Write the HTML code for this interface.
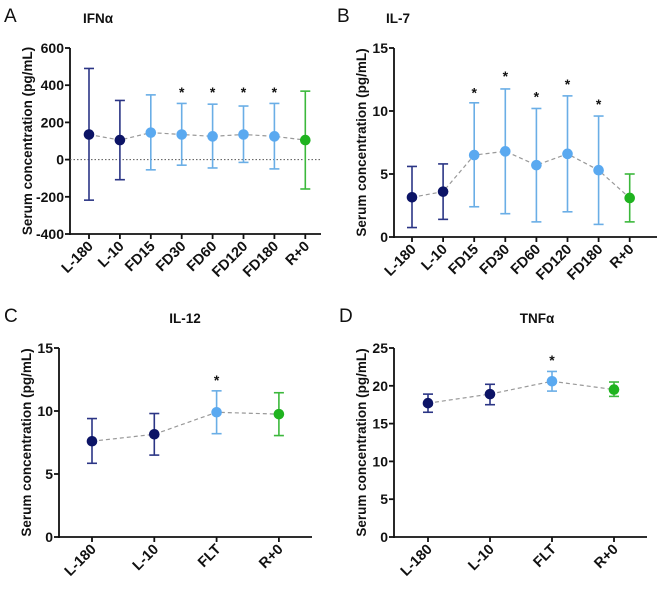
<!DOCTYPE html>
<html><head><meta charset="utf-8"><style>
body{margin:0;background:#fff;}
svg{display:block;font-family:"Liberation Sans",Arial,sans-serif;}
</style></head><body>
<svg id="fig" width="669" height="602" viewBox="0 0 669 602"></svg>
<script>
const catsAB = ["L-180","L-10","FD15","FD30","FD60","FD120","FD180","R+0"];
const catsCD = ["L-180","L-10","FLT","R+0"];
const colAB = ["navy","navy","light","light","light","light","light","green"];
const colCD = ["navy","navy","light","green"];
const ifnMean = [135,105,145,135,125,135,125,105];
const ifnUp = [490,318,348,302,298,288,302,368];
const ifnLo = [-218,-108,-55,-30,-45,-15,-50,-158];
const ifnStar = [null,null,null,380,380,380,380,null];
const il7Mean = [3.15,3.6,6.5,6.8,5.7,6.6,5.3,3.1];
const il7Up = [5.6,5.8,10.65,11.75,10.2,11.2,9.6,5.0];
const il7Lo = [0.75,1.4,2.4,1.85,1.2,2.0,1.0,1.2];
const il7Star = [null,null,11.7,13.0,11.4,12.4,10.8,null];
const il12Mean = [7.6,8.15,9.9,9.75];
const il12Up = [9.4,9.8,11.6,11.45];
const il12Lo = [5.85,6.5,8.2,8.05];
const il12Star = [null,null,12.7,null];
const tnfMean = [17.7,18.9,20.6,19.5];
const tnfUp = [18.9,20.2,21.9,20.5];
const tnfLo = [16.5,17.5,19.3,18.6];
const tnfStar = [null,null,23.8,null];
const ticksA = [-400,-200,0,200,400,600];
const ticksB = [0,5,10,15];
const ticksC = [0,5,10,15];
const ticksD = [0,5,10,15,20,25];

const NS="http://www.w3.org/2000/svg";
const svg=document.getElementById('fig');
const COL={navy:{dot:"#0c1466",bar:"#2b3585"},light:{dot:"#5aa9f0",bar:"#6aaee6"},green:{dot:"#1fb31f",bar:"#3cb83c"}};
function mk(tag,attrs,parent){const e=document.createElementNS(NS,tag);for(const k in attrs)e.setAttribute(k,attrs[k]);(parent||svg).appendChild(e);return e;}

function panel(p){
  const g=mk('g',{});
  
  
  const y=v=>p.y0+(v-p.vmin)/(p.vmax-p.vmin)*(p.y1-p.y0);
  const x=i=>p.xs0+i*p.dx;
  let t=mk('text',{x:p.lx,y:p.ly,'font-size':19,fill:'#111'},g);t.textContent=p.letter;
  
  t=mk('text',{x:p.tx,y:p.ty,'font-size':13.5,'font-weight':'bold','text-anchor':'middle',fill:'#111'},g);t.textContent=p.title;
  
  const yc=(p.y0+p.y1)/2;
  const yx=p.ax-p.tOff;
  t=mk('text',{x:yx,y:yc,'font-size':13.5,'font-weight':'bold','text-anchor':'middle',fill:'#111',transform:`rotate(-90 ${yx} ${yc})`},g);t.textContent="Serum concentration (pg/mL)";
  
  let l=mk('line',{x1:p.ax,x2:p.ax,y1:p.y1,y2:p.y0+1,stroke:'#111','stroke-width':1.8},g);
  
  p.ticks.forEach(v=>{
    mk('line',{x1:p.ax-5,x2:p.ax,y1:y(v),y2:y(v),stroke:'#111','stroke-width':1.8},g);
    const tt=mk('text',{x:p.ax-6,y:y(v)+5,'font-size':14,'font-weight':'bold','text-anchor':'end',fill:'#111'},g);tt.textContent=v;
    
  });
  l=mk('line',{x1:p.ax-1,x2:p.xend,y1:p.y0,y2:p.y0,stroke:'#111','stroke-width':1.8},g);
  
  if(p.zero){l=mk('line',{x1:p.ax,x2:p.xend,y1:y(0),y2:y(0),stroke:'#555','stroke-width':1,'stroke-dasharray':'1.5 2'},g);
    }
  p.cats.forEach((c,i)=>{
    mk('line',{x1:x(i),x2:x(i),y1:p.y0,y2:p.y0+5,stroke:'#111','stroke-width':1.8},g);
    const tx=x(i)+5,ty=p.y0+13;
    const tt=mk('text',{x:tx,y:ty,'font-size':14.5,'font-weight':'bold','text-anchor':'end',fill:'#111',transform:`rotate(-45 ${tx} ${ty})`},g);tt.textContent=c;
    
  });
  const pts=p.mean.map((m,i)=>x(i)+','+y(m)).join(' ');
  l=mk('polyline',{points:pts,fill:'none',stroke:'#999','stroke-width':1.2,'stroke-dasharray':'4 3'},g);
  
  p.mean.forEach((m,i)=>{
    const c=COL[p.col[i]];
    const eg=mk('g',{},g);
    
    mk('line',{x1:x(i),x2:x(i),y1:y(p.up[i]),y2:y(p.lo[i]),stroke:c.bar,'stroke-width':1.6},eg);
    mk('line',{x1:x(i)-5,x2:x(i)+5,y1:y(p.up[i]),y2:y(p.up[i]),stroke:c.bar,'stroke-width':1.6},eg);
    mk('line',{x1:x(i)-5,x2:x(i)+5,y1:y(p.lo[i]),y2:y(p.lo[i]),stroke:c.bar,'stroke-width':1.6},eg);
    const d=mk('circle',{cx:x(i),cy:y(m),r:5.3,fill:c.dot},g);
    
    if(p.star[i]!=null){const s=mk('text',{x:x(i),y:y(p.star[i])+8,'font-size':14,'font-weight':'bold','text-anchor':'middle',fill:'#111'},g);s.textContent='*';
      }
  });
}
panel({name:'panel-a-ifna',letter:'A',lx:4,ly:22,title:'IFNα',tx:98,ty:23,ax:70,tOff:38,xend:321,y0:234,y1:48,vmin:-400,vmax:600,xs0:89,dx:30.9,ticks:ticksA,cats:catsAB,col:colAB,mean:ifnMean,up:ifnUp,lo:ifnLo,star:ifnStar,zero:true});
panel({name:'panel-b-il7',letter:'B',lx:337,ly:22,title:'IL-7',tx:398,ty:23,ax:394,tOff:28,xend:657,y0:237,y1:48,vmin:0,vmax:15,xs0:412,dx:31.1,ticks:ticksB,cats:catsAB,col:colAB,mean:il7Mean,up:il7Up,lo:il7Lo,star:il7Star});
panel({name:'panel-c-il12',letter:'C',lx:4,ly:322,title:'IL-12',tx:185,ty:323,ax:59,tOff:28,xend:312,y0:537,y1:348,vmin:0,vmax:15,xs0:92,dx:62.3,ticks:ticksC,cats:catsCD,col:colCD,mean:il12Mean,up:il12Up,lo:il12Lo,star:il12Star});
panel({name:'panel-d-tnfa',letter:'D',lx:339,ly:322,title:'TNFα',tx:537,ty:323,ax:394,tOff:28,xend:647,y0:537,y1:348,vmin:0,vmax:25,xs0:428,dx:62,ticks:ticksD,cats:catsCD,col:colCD,mean:tnfMean,up:tnfUp,lo:tnfLo,star:tnfStar});
</script>
</body></html>
